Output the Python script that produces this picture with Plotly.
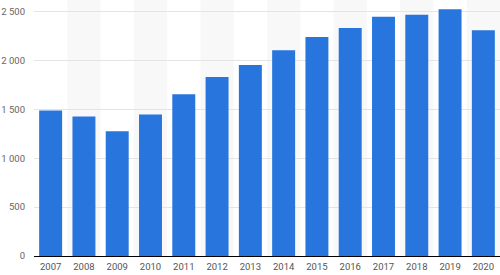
import plotly.graph_objects as go

years = ["2007", "2008", "2009", "2010", "2011", "2012", "2013",
         "2014", "2015", "2016", "2017", "2018", "2019", "2020"]
values = [1489, 1428, 1276, 1448, 1655, 1831, 1953,
          2106, 2241, 2332, 2447, 2467, 2525, 2309]
y_tickvals = [0, 500, 1000, 1500, 2000, 2500]
y_ticktext = ["0", "500", "1 000", "1 500", "2 000", "2 500"]

fig = go.Figure()
fig.add_trace(go.Bar(x=years, y=values, marker_color="#2876dd",
                     marker_line_width=0))

shapes = []
for i in range(len(years)):
    if i % 2 == 1:
        shapes.append(dict(type="rect", xref="x", yref="paper",
                           x0=i - 0.5, x1=i + 0.5, y0=0, y1=1,
                           fillcolor="#f8f8f8", line_width=0, layer="below"))

fig.update_layout(
    width=500, height=275,
    margin=dict(l=34, r=0, t=0, b=19),
    paper_bgcolor="white", plot_bgcolor="white",
    bargap=0.31,
    showlegend=False,
    shapes=shapes,
    font=dict(family="Roboto", size=9.5, color="#666666"),
    xaxis=dict(showgrid=False, showline=True, linecolor="#000000",
               linewidth=1, ticks="", tickfont=dict(size=9.5, color="#555555"),
               ticklabelstandoff=2),
    yaxis=dict(range=[0, 2619], tickvals=y_tickvals, ticktext=y_ticktext,
               showgrid=True, gridcolor="#e4e4e4", gridwidth=1,
               zeroline=False, showline=False, ticks="",
               ticklabelstandoff=8, tickfont=dict(size=9.5, color="#666666")),
)

fig.write_html("out.html")
